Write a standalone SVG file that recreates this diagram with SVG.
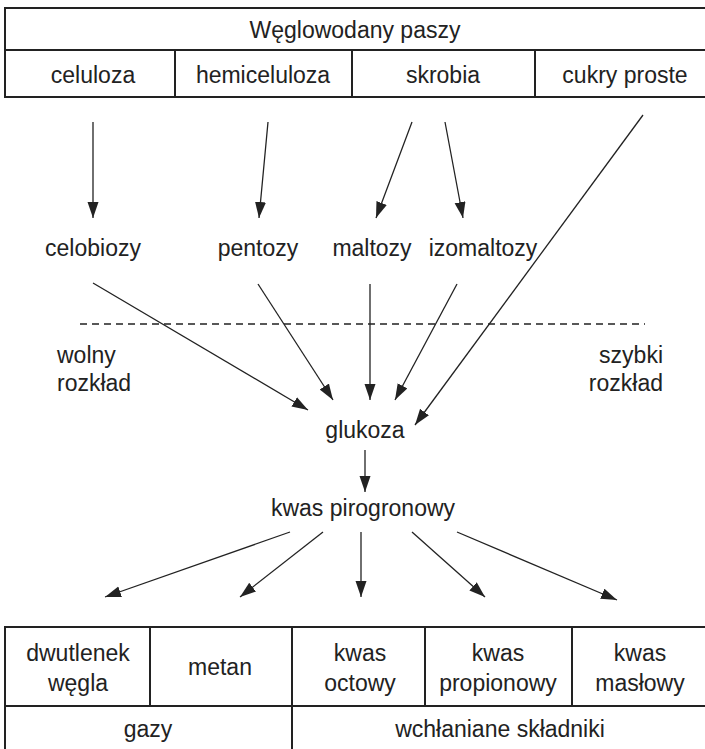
<svg xmlns="http://www.w3.org/2000/svg" width="705" height="749" viewBox="0 0 705 749">
<style>
text{font-family:"Liberation Sans",Arial,sans-serif;font-size:23px;fill:#222;text-anchor:middle}
.tb{fill:none;stroke:#222;stroke-width:2}
.ar{stroke:#222;stroke-width:1.3;fill:none;marker-end:url(#ah)}
.dash{stroke:#222;stroke-width:1.5;stroke-dasharray:7,5}
.l{text-anchor:start}.r{text-anchor:end}
</style>
<defs>
<marker id="ah" markerUnits="userSpaceOnUse" markerWidth="17" markerHeight="12" refX="16" refY="5.5" orient="auto">
<path d="M0,0 L16,5.5 L0,11 z" fill="#222"/>
</marker>
</defs>
<rect width="705" height="749" fill="#fff"/>
<g id="top-table">
<path class="tb" d="M706,8 H5 V97 H706 M5,50 H706 M175,50 V97 M352,50 V97 M535,50 V97"/>
<text x="355" y="38">Węglowodany paszy</text>
</g>
<g id="celuloza"><text x="93" y="83">celuloza</text></g>
<g id="hemiceluloza"><text x="263" y="83">hemiceluloza</text></g>
<g id="skrobia"><text x="443" y="83">skrobia</text></g>
<g id="cukry"><text x="625" y="83">cukry proste</text></g>
<g id="celobiozy"><text x="93" y="256">celobiozy</text></g>
<g id="pentozy"><text x="258" y="256">pentozy</text></g>
<g id="maltozy"><text x="372" y="256">maltozy</text></g>
<g id="izomaltozy"><text x="483" y="256">izomaltozy</text></g>
<g id="wolny"><text class="l" x="57" y="363">wolny</text><text class="l" x="57" y="391">rozkład</text></g>
<g id="szybki"><text class="r" x="663" y="363">szybki</text><text class="r" x="663" y="391">rozkład</text></g>
<g id="glukoza"><text x="365" y="438">glukoza</text></g>
<g id="pirogronowy"><text x="363" y="516">kwas pirogronowy</text></g>
<g id="bottom-table">
<path class="tb" d="M706,627 H5 V750 M5,706 H706 M150,627 V706 M292,627 V750 M425,627 V706 M572,627 V706"/>
</g>
<g id="dwutlenek"><text x="78" y="661">dwutlenek</text><text x="78" y="691">węgla</text></g>
<g id="metan"><text x="220" y="675">metan</text></g>
<g id="octowy"><text x="360" y="661">kwas</text><text x="360" y="691">octowy</text></g>
<g id="propionowy"><text x="498" y="661">kwas</text><text x="498" y="691">propionowy</text></g>
<g id="maslowy"><text x="640" y="661">kwas</text><text x="640" y="691">masłowy</text></g>
<g id="gazy"><text x="148" y="737">gazy</text></g>
<g id="wchlaniane"><text x="500" y="737">wchłaniane składniki</text></g>
<g id="connectors">
<line class="ar" x1="93" y1="122" x2="93" y2="218"/>
<line class="ar" x1="268" y1="122" x2="259" y2="218"/>
<line class="ar" x1="412" y1="122" x2="376" y2="218"/>
<line class="ar" x1="445" y1="122" x2="463" y2="218"/>
<line class="ar" x1="643" y1="115" x2="415" y2="425"/>
<line class="ar" x1="93" y1="283" x2="308" y2="410"/>
<line class="ar" x1="258" y1="284" x2="333" y2="400"/>
<line class="ar" x1="370" y1="284" x2="370" y2="400"/>
<line class="ar" x1="457" y1="284" x2="395" y2="400"/>
<line class="dash" x1="80" y1="324" x2="645" y2="324"/>
<line class="ar" x1="365" y1="450" x2="365" y2="492"/>
<line class="ar" x1="290" y1="532" x2="105" y2="597"/>
<line class="ar" x1="323" y1="532" x2="240" y2="597"/>
<line class="ar" x1="361" y1="532" x2="361" y2="597"/>
<line class="ar" x1="412" y1="532" x2="485" y2="597"/>
<line class="ar" x1="457" y1="532" x2="617" y2="600"/>
</g>
</svg>
